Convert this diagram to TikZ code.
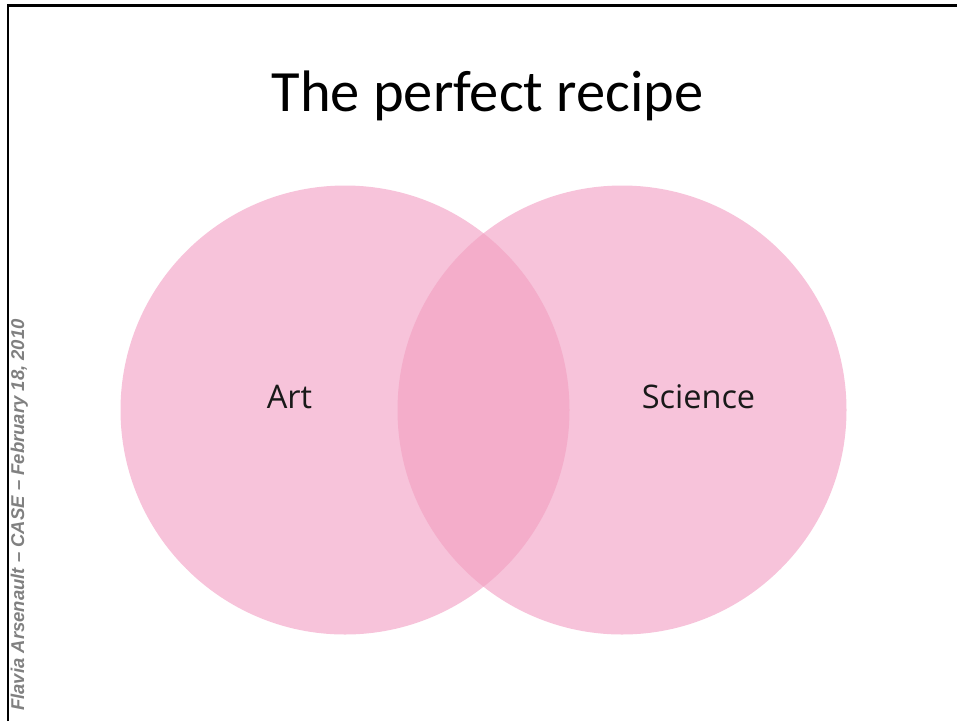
\documentclass[tikz,border=0pt]{standalone}
\usepackage{fontspec}
\setmainfont{Carlito}
\newfontfamily\labelfont{Open Sans}
\newfontfamily\sidefont{Liberation Sans}
\definecolor{venn}{HTML}{F7C3DA}
\definecolor{vennmid}{HTML}{F4ADCA}
\definecolor{sidegray}{HTML}{808080}
\begin{document}
\begin{tikzpicture}[
    x=1pt, y=-1pt,
    blob/.style={
        circle,
        fill=venn,
        minimum size=449pt,
        inner sep=0pt
    },
    word/.style={
        font=\labelfont\fontsize{32.5}{32.5}\selectfont,
        text=black!90
    }
]
\useasboundingbox (0,0) rectangle (957,721);

% slide frame
\draw[line width=2.5pt] (8,721) -- (8,5.5) -- (957,5.5);

\node (title) at (487.5,96) {\fontsize{58.5}{58.5}\selectfont The perfect recipe};

% the two sets
\node[blob] (art) at (345,410) {};
\node[blob] (sci) at (622,410) {};
\begin{scope}
    \clip (art.center) circle (224.5);
    \fill[vennmid] (sci.center) circle (224.5);
\end{scope}

\node[word] (artlabel) at (289.5,397) {Art};
\node[word] (scilabel) at (698.5,397) {Science};

\node[rotate=90, anchor=south, text=sidegray,
      font=\sidefont\bfseries\itshape\fontsize{18.5}{18.5}\selectfont] (side) at (31.5,515)
    {Flavia Arsenault – CASE – February 18, 2010};

\end{tikzpicture}
\end{document}
